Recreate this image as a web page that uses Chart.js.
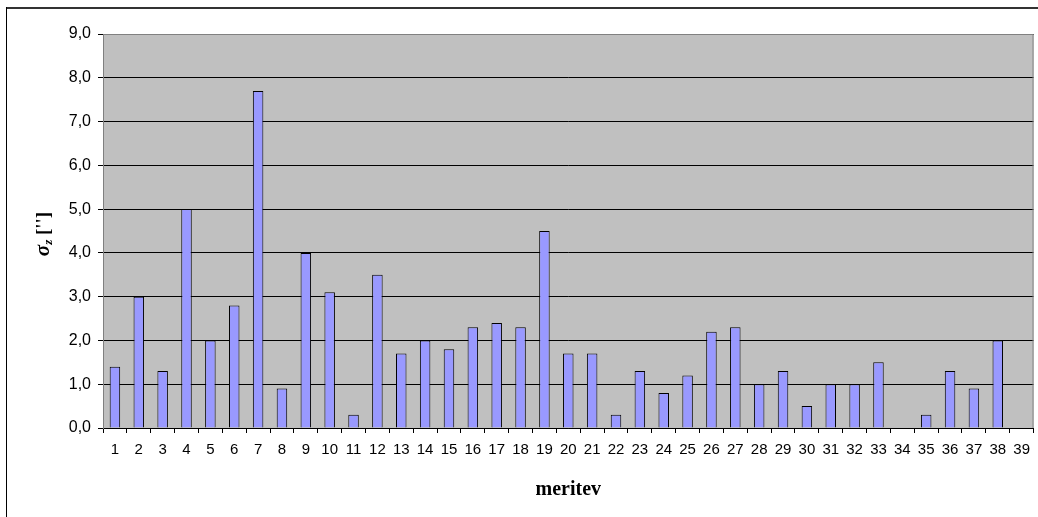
<!DOCTYPE html>
<html>
<head>
<meta charset="utf-8">
<script src="https://cdn.jsdelivr.net/npm/chart.js@4/dist/chart.umd.min.js"></script>
<style>
    html, body { margin: 0; padding: 0; background: #ffffff; }
    #wrap { width: 1038px; height: 517px; position: relative; }
</style>
</head>
<body>
<div id="wrap"><canvas id="sigmaChart" width="1038" height="517"></canvas></div>
<script>
var meritve = [];
for (var i = 1; i <= 39; i++) {
    meritve.push(String(i));
}

var sigmaZ = [1.4, 3.0, 1.3, 5.0, 2.0, 2.8, 7.7, 0.9, 4.0, 3.1,
              0.3, 3.5, 1.7, 2.0, 1.8, 2.3, 2.4, 2.3, 4.5, 1.7,
              1.7, 0.3, 1.3, 0.8, 1.2, 2.2, 2.3, 1.0, 1.3, 0.5,
              1.0, 1.0, 1.5, null, 0.3, 1.3, 0.9, 2.0, null];

var yMin = 0;
var yMax = 9;
var yStep = 1;

var xTitle = "meritev";

// gray plot area, frame round the whole picture, axis titles
var decorPlugin = {
    id: 'decor',
    beforeDraw: function(chart) {
        var ctx = chart.ctx;
        var a = chart.chartArea;
        ctx.save();
        ctx.fillStyle = '#ffffff';
        ctx.fillRect(0, 0, chart.width, chart.height);
        ctx.fillStyle = '#c0c0c0';
        ctx.fillRect(a.left, a.top, a.right - a.left, a.bottom - a.top);

        ctx.strokeStyle = '#333333';
        ctx.lineWidth = 2;
        ctx.beginPath();
        ctx.moveTo(6, 8);
        ctx.lineTo(chart.width + 5, 8);
        ctx.stroke();
        ctx.lineWidth = 1;
        ctx.strokeStyle = '#000000';
        ctx.beginPath();
        ctx.moveTo(6.5, 7);
        ctx.lineTo(6.5, chart.height + 5);
        ctx.stroke();
        ctx.restore();
    },
    afterDraw: function(chart) {
        var ctx = chart.ctx;
        var a = chart.chartArea;
        ctx.save();
        ctx.fillStyle = '#000000';

        // x title
        ctx.font = 'bold 20px "Liberation Serif"';
        ctx.textAlign = 'center';
        ctx.textBaseline = 'middle';
        ctx.fillText(xTitle, (a.left + a.right) / 2, 490);

        // y title: sigma with subscript z, then ['']
        ctx.translate(42, 234);
        ctx.rotate(-Math.PI / 2);
        ctx.textAlign = 'left';
        ctx.textBaseline = 'alphabetic';
        var f1 = 'bold italic 21px "Liberation Serif"';
        var f2 = 'bold italic 13px "Liberation Serif"';
        var f3 = 'bold 19px "Liberation Serif"';
        ctx.font = f1; var w1 = ctx.measureText('σ').width;
        ctx.font = f2; var w2 = ctx.measureText('z').width;
        ctx.font = f3; var w3 = ctx.measureText(" ['']").width;
        var x0 = -(w1 + w2 + w3) / 2;
        var base = 7;
        ctx.font = f1; ctx.fillText('σ', x0, base);
        ctx.font = f2; ctx.fillText('z', x0 + w1, base + 3);
        ctx.font = f3; ctx.fillText(" ['']", x0 + w1 + w2, base);
        ctx.restore();
    }
};

new Chart(document.getElementById("sigmaChart"), {
    type: 'bar',
    data: {
        labels: meritve,
        datasets: [
            {
                label: 'sigma z',
                data: sigmaZ,
                backgroundColor: '#9999ff',
                borderColor: '#000000',
                borderWidth: 1,
                barPercentage: 0.44,
                categoryPercentage: 1.0
            }
        ]
    },
    options: {
        responsive: false,
        animation: false,
        devicePixelRatio: 1,
        layout: {
            padding: { left: 0, right: 2, top: 34, bottom: 0 }
        },
        plugins: {
            legend: { display: false },
            tooltip: { enabled: false }
        },
        scales: {
            x: {
                grid: {
                    offset: true,
                    drawOnChartArea: false,
                    drawTicks: true,
                    tickLength: 5,
                    color: '#000000'
                },
                border: { color: '#000000', width: 1 },
                ticks: {
                    color: '#000000',
                    font: { family: '"Liberation Sans"', size: 15 },
                    padding: 8,
                    maxRotation: 0,
                    autoSkip: false
                },
                afterFit: function(scale) { scale.height = 89; }
            },
            y: {
                min: yMin,
                max: yMax,
                grid: {
                    color: '#000000',
                    tickLength: 5,
                    drawTicks: true
                },
                border: { color: '#808080', width: 1 },
                ticks: {
                    stepSize: yStep,
                    color: '#000000',
                    font: { family: '"Liberation Sans"', size: 16 },
                    padding: 7,
                    callback: function(v) { return v.toFixed(1).replace('.', ','); }
                },
                afterFit: function(scale) { scale.width = 103; }
            }
        }
    },
    plugins: [decorPlugin, {
        id: 'frame',
        afterDatasetsDraw: function(chart) {
            var ctx = chart.ctx;
            var a = chart.chartArea;
            ctx.save();
            ctx.strokeStyle = '#808080';
            ctx.lineWidth = 1;
            ctx.beginPath();
            ctx.moveTo(a.left, a.top + 0.5);
            ctx.lineTo(a.right - 0.5, a.top + 0.5);
            ctx.lineTo(a.right - 0.5, a.bottom);
            ctx.stroke();
            ctx.restore();
        }
    }]
});
</script>
</body>
</html>
